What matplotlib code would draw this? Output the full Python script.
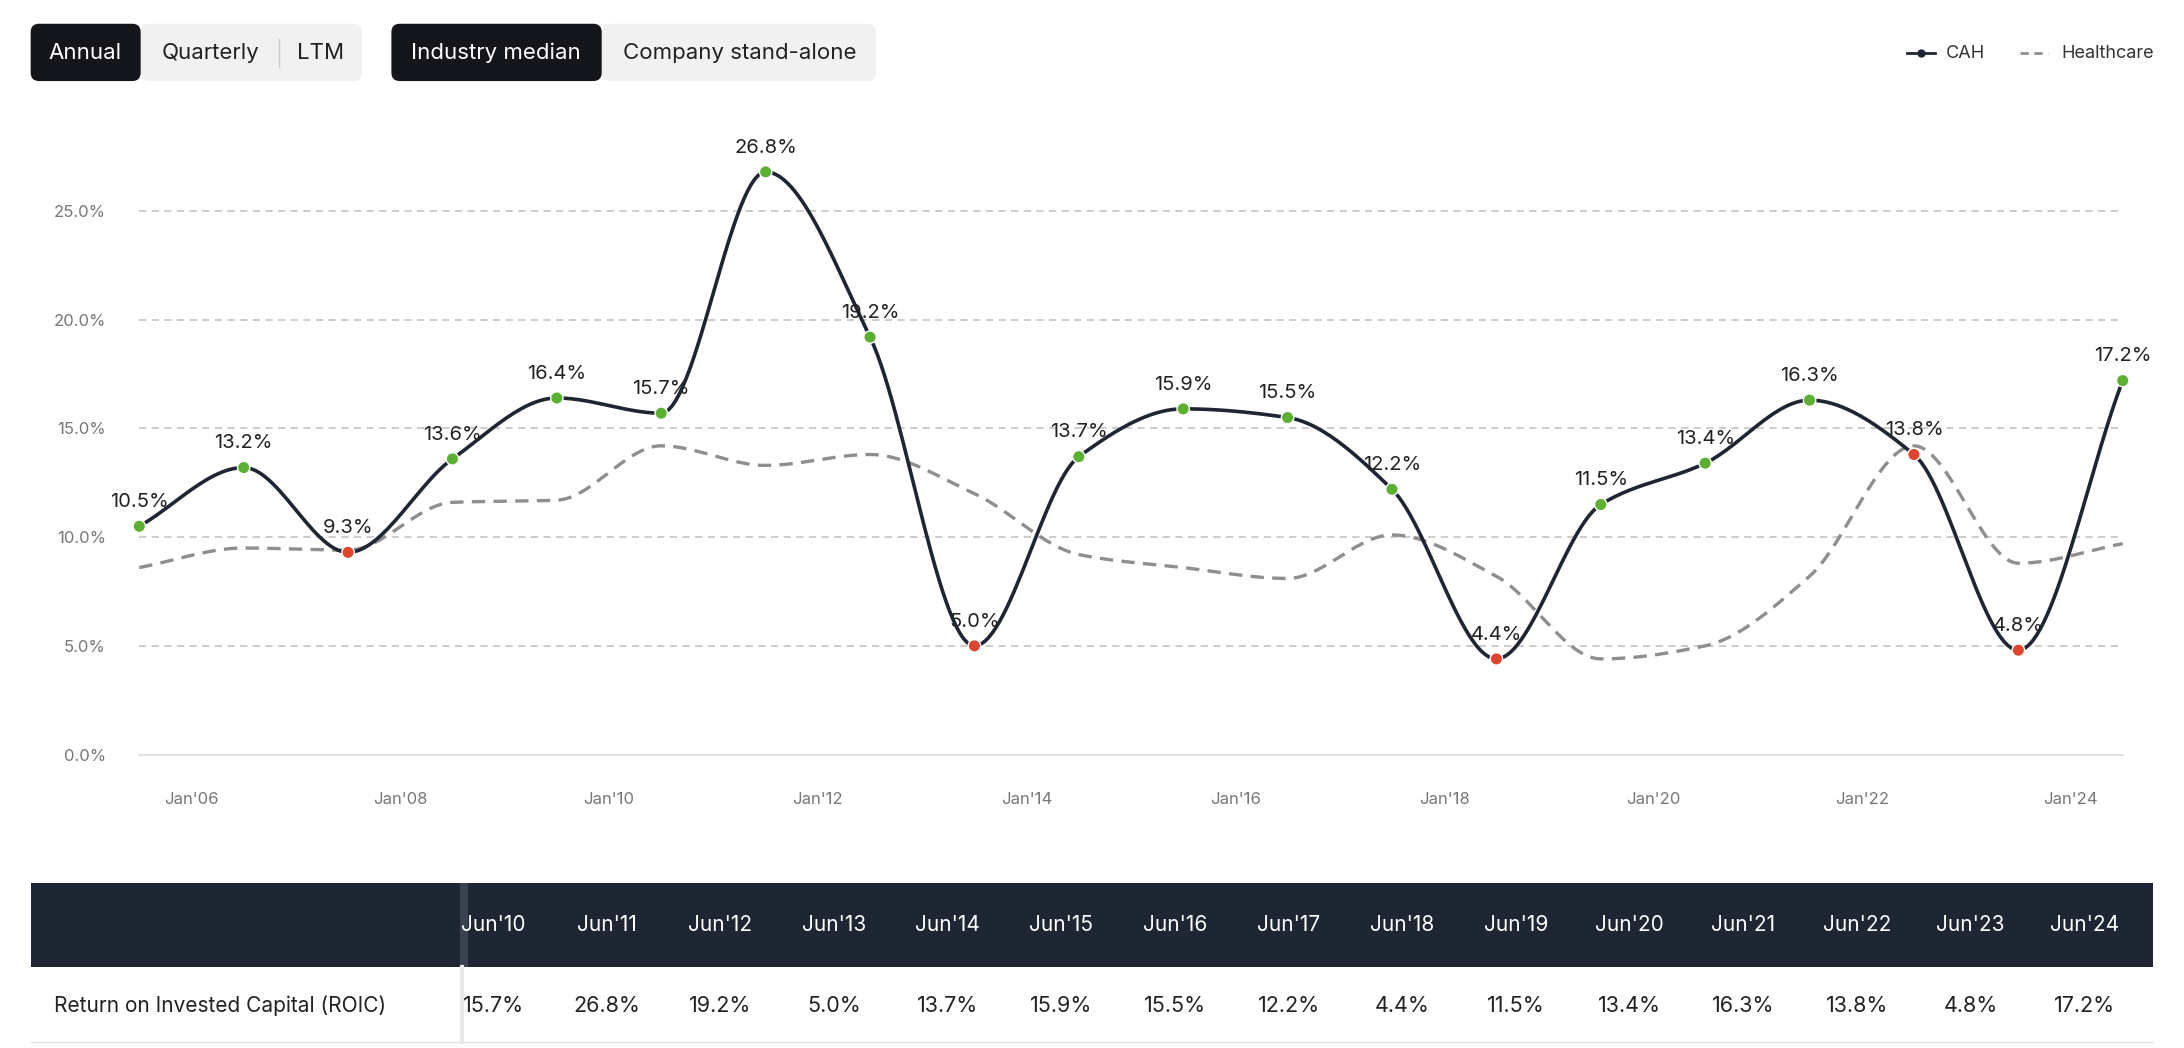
import matplotlib.pyplot as plt
import numpy as np
from matplotlib.patches import FancyBboxPatch, Rectangle

plt.rcParams["font.family"] = "Inter"

years = np.arange(2005.5, 2025.5, 1.0)
cah = [10.5, 13.2, 9.3, 13.6, 16.4, 15.7, 26.8, 19.2, 5.0, 13.7,
       15.9, 15.5, 12.2, 4.4, 11.5, 13.4, 16.3, 13.8, 4.8, 17.2]
healthcare = [8.6, 9.5, 9.4, 11.6, 11.7, 14.2, 13.3, 13.8, 12.0, 9.2,
              8.6, 8.1, 10.1, 8.2, 4.4, 5.0, 8.2, 14.2, 8.8, 9.7]
down = [2, 8, 13, 17, 18]
table_cols = ["Jun'10", "Jun'11", "Jun'12", "Jun'13", "Jun'14", "Jun'15", "Jun'16", "Jun'17",
              "Jun'18", "Jun'19", "Jun'20", "Jun'21", "Jun'22", "Jun'23", "Jun'24"]
table_vals = ["15.7%", "26.8%", "19.2%", "5.0%", "13.7%", "15.9%", "15.5%", "12.2%",
              "4.4%", "11.5%", "13.4%", "16.3%", "13.8%", "4.8%", "17.2%"]

DARK = "#1e2533"
GREEN = "#5bb031"
RED = "#e0442c"


def monotone(x, y, n=30):
    x = np.asarray(x); y = np.asarray(y, float)
    h = np.diff(x); d = np.diff(y) / h
    m = np.zeros_like(y)
    m[0], m[-1] = d[0], d[-1]
    for i in range(1, len(y) - 1):
        if d[i - 1] * d[i] > 0:
            m[i] = 2 / (1 / d[i - 1] + 1 / d[i])
    xs, ys = [], []
    for i in range(len(h)):
        t = np.linspace(0, 1, n)
        h00 = 2*t**3 - 3*t**2 + 1; h10 = t**3 - 2*t**2 + t
        h01 = -2*t**3 + 3*t**2; h11 = t**3 - t**2
        xs.append(x[i] + t*h[i])
        ys.append(h00*y[i] + h10*h[i]*m[i] + h01*y[i+1] + h11*h[i]*m[i+1])
    return np.concatenate(xs), np.concatenate(ys)


W, H = 1568, 750
fig = plt.figure(figsize=(21.84, 10.48), dpi=100)

# main chart
ax_l, ax_r, ax_t, ax_b = 90, 1535, 95, 545
ax = fig.add_axes([ax_l / W, 1 - ax_b / H, (ax_r - ax_l) / W, (ax_b - ax_t) / H])
pxy = 75.0
ax.set_xlim(2005.5 - (100 - ax_l) / pxy, 2024.5 + (ax_r - 1524) / pxy)
ppc = (540 - 151) / 25
ax.set_ylim(-(ax_b - 540) / ppc, 25 + (151 - ax_t) / ppc)
for s in ax.spines.values():
    s.set_visible(False)
for v in [5, 10, 15, 20, 25]:
    ax.plot([2005.5, 2024.5], [v, v], color="#c8c8c8", lw=1.3, ls=(0, (4, 3)), zorder=0)
ax.plot([2005.5, 2024.5], [0, 0], color="#dddddd", lw=1.3, zorder=0)
ax.set_yticks([0, 5, 10, 15, 20, 25])
ax.set_yticklabels([f"{v:.1f}%" for v in [0, 5, 10, 15, 20, 25]], color="#777777", fontsize=12)
ax.set_xticks(np.arange(2006, 2025, 2))
ax.set_xticklabels([f"Jan'{y % 100:02d}" for y in range(2006, 2025, 2)], color="#777777", fontsize=12)
ax.tick_params(length=0, pad=22)
ax.tick_params(axis="y", pad=14)

hx, hy = monotone(years, healthcare)
ax.plot(hx, hy, color="#8e8e8e", lw=2.4, ls=(0, (4, 2.5)), zorder=2)
cx, cy = monotone(years, cah)
ax.plot(cx, cy, color=DARK, lw=2.6, zorder=3)
cols = [RED if i in down else GREEN for i in range(len(cah))]
ax.scatter(years, cah, c=cols, s=80, zorder=4, edgecolors="white", linewidths=1)
for x, v in zip(years, cah):
    ax.annotate(f"{v:.1f}%", (x, v), xytext=(0, 11), textcoords="offset points",
                ha="center", va="bottom", fontsize=14.5, color="#222222", zorder=5)

# overlay in pixel coords
ov = fig.add_axes([0, 0, 1, 1], zorder=10)
ov.set_xlim(0, W); ov.set_ylim(H, 0); ov.axis("off")
ov.patch.set_alpha(0)


def button(x0, x1, fc):
    ov.add_patch(FancyBboxPatch((x0, 17), x1 - x0, 41, boxstyle="round,pad=0,rounding_size=6",
                                fc=fc, ec="none"))


button(101, 260, "#f1f1f1")
button(22, 101, "#15151c")
button(432, 629, "#f1f1f1")
button(281, 432, "#15151c")
ov.plot([200, 200], [28, 48], color="#cccccc", lw=1)
for x, t, c in [(61, "Annual", "white"), (151, "Quarterly", "#222"), (230, "LTM", "#222"),
                (356, "Industry median", "white"), (531, "Company stand-alone", "#222")]:
    ov.text(x, 38, t, ha="center", va="center", fontsize=16, color=c)

ov.plot([1369, 1389], [38, 38], color=DARK, lw=2)
ov.scatter([1379], [38], color=DARK, s=25)
ov.text(1397, 38, "CAH", va="center", fontsize=13, color="#333")
ov.plot([1450, 1470], [38, 38], color="#8e8e8e", lw=2, ls=(0, (3, 2)))
ov.text(1480, 38, "Healthcare", va="center", fontsize=13, color="#333")

# table
ov.add_patch(Rectangle((22, 632), 1524, 60, fc=DARK, ec="none"))
ov.add_patch(Rectangle((330, 632), 6, 60, fc="#3a4252", ec="none"))
ov.plot([22, 1546], [746, 746], color="#e3e3e3", lw=1)
ov.plot([332, 332], [692, 746], color="#e8e8e8", lw=3)
ov.text(39, 720, "Return on Invested Capital (ROIC)", va="center", fontsize=15, color="#222")
for i, (c, v) in enumerate(zip(table_cols, table_vals)):
    x = 354 + i * 81.6
    ov.text(x, 662, c, ha="center", va="center", fontsize=15, color="white")
    ov.text(x, 720, v, ha="center", va="center", fontsize=15.5, color="#222")

fig.savefig("out.png", dpi=100)
